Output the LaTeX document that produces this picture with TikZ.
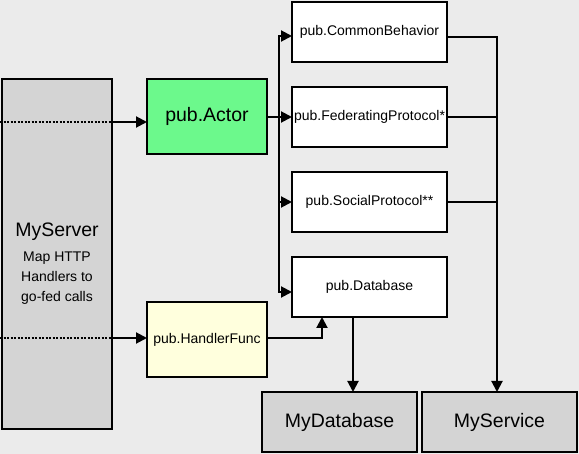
\documentclass[tikz,border=0pt]{standalone}
\usepackage{fontspec}
\setmainfont{Liberation Sans}
\usetikzlibrary{arrows.meta}
\begin{document}
\begin{tikzpicture}[x=1pt,y=-1pt,
    wire/.style={line width=2pt},
    feed/.style={wire,-{Triangle[length=11pt,width=11pt]}},
    dotline/.style={line width=2pt,dash pattern=on 2pt off 1.5pt},
    pubbox/.style={draw=black,line width=2pt,inner sep=1pt,outer sep=0pt,
        minimum width=155pt,minimum height=60pt,fill=white,
        font=\fontsize{14}{16}\selectfont},
    gobox/.style={pubbox,minimum width=120pt,minimum height=75pt},
    mybox/.style={pubbox,fill=r212g212b212,font=\fontsize{19.5}{22}\selectfont}]
    % \clip (0,0) rectangle (579,454);

    % Changing colors
    \definecolor{r235g235b235}{rgb}{0.921569,0.921569,0.921569}%
    \definecolor{r212g212b212}{rgb}{0.831373,0.831373,0.831373}%
    \definecolor{r108g249b140}{rgb}{0.423529,0.976471,0.549020}%
    \definecolor{r255g255b221}{rgb}{1.000000,1.000000,0.866667}%

    % Drawing background
    \fill [r235g235b235] (0,0) rectangle (579,454);%
    \useasboundingbox (0,0) rectangle (579,454);%

    % Drawing box server
    \node [pubbox,fill=r212g212b212,minimum width=110pt,minimum height=350pt] (server) at (57,254) {};%
    \node [font=\fontsize{19.5}{22}\selectfont,anchor=base,inner sep=0pt] (servername) at (57,236.5) {MyServer};%
    \node [font=\fontsize{14}{20}\selectfont,align=center,inner sep=0pt] (servernote) at (57,278) {Map HTTP\\Handlers to\\go-fed calls};%

    % Drawing boxes actor and handler
    \node [gobox,fill=r108g249b140,font=\fontsize{19.5}{22}\selectfont] (actor) at (207,116.5) {pub.Actor};%
    \node [gobox,fill=r255g255b221] (hf) at (207,339.5) {pub.HandlerFunc};%

    % Drawing boxes pub
    \node [pubbox] (cb) at (369.5,32) {pub.CommonBehavior};%
    \node [pubbox] (fed) at (369.5,117) {pub.FederatingProtocol*};%
    \node [pubbox] (soc) at (369.5,202) {pub.SocialProtocol**};%
    \node [pubbox] (db) at (369.5,287) {pub.Database};%

    % Drawing boxes my
    \node [mybox] (mydb) at (339.5,422) {MyDatabase};%
    \node [mybox] (mysvc) at (499.5,422) {MyService};%

    % Marking points
    \coordinate (inA) at (0,122);%
    \coordinate (inH) at (0,338);%
    \coordinate (cbin) at ([yshift=-4pt]cb.west);%
    \coordinate (dbin) at ([yshift=-5pt]db.west);%
    \coordinate (busl) at ([xshift=-13pt]cbin);%
    \coordinate (cbout) at ([yshift=-5pt]cb.east);%
    \coordinate (busr) at ([xshift=50pt]cbout);%
    \coordinate (dbout) at ([xshift=-16.5pt]db.south);%
    \coordinate (dbup) at ([xshift=-47.5pt]db.south);%
    \coordinate (hfout) at ([yshift=1.5pt]hf.east);%

    % Drawing arrow server actor
    \draw [dotline] (inA) -- (inA -| server.east);%
    \draw [feed] (inA -| server.east) -- (inA -| actor.west);%

    % Drawing arrow server hf
    \draw [dotline] (inH) -- (inH -| server.east);%
    \draw [feed] (inH -| server.east) -- (inH -| hf.west);%

    % Drawing arrows actor pub
    \draw [feed] (actor.east |- fed.west) -- (fed.west);%
    \draw [feed] (busl |- dbin) -- (busl) -- (cbin);%
    \draw [feed] (busl) -- (busl |- dbin) -- (dbin);%
    \draw [feed] (busl |- soc.west) -- (soc.west);%

    % Drawing arrow pub mysvc
    \draw [feed] (cbout) -- (busr) -- (busr |- mysvc.north);%
    \draw [wire] (fed.east) -- (fed.east -| busr);%
    \draw [wire] (soc.east) -- (soc.east -| busr);%

    % Drawing arrow db mydb
    \draw [feed] (dbout) -- (dbout |- mydb.north);%

    % Drawing arrow hf db
    \draw [feed] (hfout) -- (hfout -| dbup) -- (dbup);%
\end{tikzpicture}
\end{document}
